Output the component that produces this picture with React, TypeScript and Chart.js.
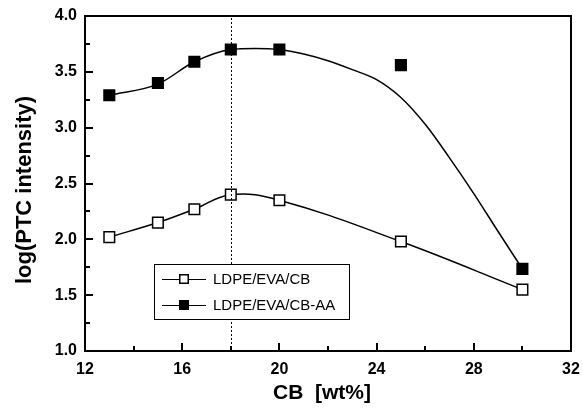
import React, { useEffect, useRef } from "react";
import { Chart, registerables } from "chart.js";

Chart.register(...registerables);

// ---- data ----
const cbContent = [13, 15, 16.5, 18, 20, 25, 30];
const ldpeEvaCb = [2.02, 2.15, 2.27, 2.4, 2.35, 1.98, 1.55];
const ldpeEvaCbAA = [3.29, 3.4, 3.59, 3.7, 3.7, 3.56, 1.735];
// fitted (hand-drawn) guide curve for LDPE/EVA/CB-AA
const fitCbContent = [13, 15, 16.5, 18, 19, 20, 21, 22, 23, 24, 25, 26, 27, 28, 29, 30];
const fitAA = [3.29, 3.39, 3.59, 3.7, 3.71, 3.7, 3.66, 3.6, 3.52, 3.43, 3.27, 3.03, 2.73, 2.41, 2.07, 1.735];
const xTickValues = [12, 16, 20, 24, 28, 32];
const xMinorTickValues = [14, 18, 22, 26, 30];
const yTickValues = [1.0, 1.5, 2.0, 2.5, 3.0, 3.5, 4.0];
const yMinorTickValues = [1.25, 1.75, 2.25, 2.75, 3.25, 3.75];
const percolationCb = 18;
const seriesNames = ["LDPE/EVA/CB", "LDPE/EVA/CB-AA"];
const xTitle = "CB  [wt%]";
const yTitle = "log(PTC intensity)";

const FONT = '"Liberation Sans", Arial, Helvetica, sans-serif';

function drawFrameAndTicks(ctx: CanvasRenderingContext2D, chart: any) {
  const a = chart.chartArea;
  const xs = chart.scales.x;
  const ys = chart.scales.y;
  const L = Math.round(a.left);
  const R = Math.round(a.right);
  const T = Math.round(a.top);
  const B = Math.round(a.bottom);
  ctx.save();
  ctx.fillStyle = "#000";
  ctx.fillRect(L - 1, T - 1, R - L + 2, 2);
  ctx.fillRect(L - 1, B - 1, R - L + 2, 2);
  ctx.fillRect(L - 1, T - 1, 2, B - T + 2);
  ctx.fillRect(R - 1, T - 1, 2, B - T + 2);
  xTickValues.forEach((v) => {
    const x = Math.round(xs.getPixelForValue(v));
    ctx.fillRect(x - 1, B - 8, 2, 8);
  });
  xMinorTickValues.forEach((v) => {
    const x = Math.round(xs.getPixelForValue(v));
    ctx.fillRect(x - 1, B - 5, 2, 5);
  });
  yTickValues.forEach((v) => {
    const y = Math.round(ys.getPixelForValue(v));
    ctx.fillRect(L, y - 1, 8, 2);
  });
  yMinorTickValues.forEach((v) => {
    const y = Math.round(ys.getPixelForValue(v));
    ctx.fillRect(L, y - 1, 5, 2);
  });
  ctx.restore();
}

const decorPlugin = {
  id: "decor",
  afterDraw(chart: any) {
    const ctx = chart.ctx;
    const a = chart.chartArea;
    const xs = chart.scales.x;
    const T = Math.round(a.top);
    const B = Math.round(a.bottom);
    ctx.save();
    ctx.fillStyle = "#000";
    // dotted percolation line
    const px = Math.round(xs.getPixelForValue(percolationCb));
    for (let y = T + 2; y < B - 1; y += 4) ctx.fillRect(px, y, 1, 2);
    drawFrameAndTicks(ctx, chart);

    // axis titles
    ctx.fillStyle = "#000";
    ctx.font = `bold 21px ${FONT}`;
    ctx.textAlign = "center";
    ctx.textBaseline = "middle";
    ctx.fillText(xTitle, 322, 393);
    ctx.save();
    ctx.translate(25, 190);
    ctx.rotate(-Math.PI / 2);
    ctx.font = `bold 22px ${FONT}`;
    ctx.fillText(yTitle, 0, 0);
    ctx.restore();

    // legend
    const bx = 154, by = 264, bw = 195, bh = 55;
    ctx.fillStyle = "#fff";
    ctx.fillRect(bx, by, bw, bh);
    ctx.fillStyle = "#000";
    ctx.fillRect(bx, by, bw, 1);
    ctx.fillRect(bx, by + bh, bw + 1, 1);
    ctx.fillRect(bx, by, 1, bh);
    ctx.fillRect(bx + bw, by, 1, bh);
    const rows = [by + 15, by + 41];
    rows.forEach((ry, i) => {
      ctx.fillStyle = "#000";
      ctx.fillRect(162, ry, 44, 1);
      const s = 10;
      ctx.fillRect(184 - s / 2, ry - s / 2, s, s);
      if (i === 0) {
        ctx.fillStyle = "#fff";
        ctx.fillRect(184 - s / 2 + 1.5, ry - s / 2 + 1.5, s - 3, s - 3);
      }
      ctx.fillStyle = "#000";
      ctx.font = `15px ${FONT}`;
      ctx.textAlign = "left";
      ctx.textBaseline = "middle";
      ctx.fillText(seriesNames[i], 213, ry + 1);
    });
    ctx.restore();
  },
};

export default function App() {
  const ref = useRef<HTMLCanvasElement | null>(null);
  const overlayRef = useRef<HTMLCanvasElement | null>(null);
  useEffect(() => {
    if (!ref.current) return;
    const chart = new Chart(ref.current, {
      type: "line",
      data: {
        datasets: [
          {
            label: seriesNames[1],
            data: cbContent.map((x, i) => ({ x, y: ldpeEvaCbAA[i] })),
            showLine: false,
            pointStyle: "rect",
            pointRadius: 7.5,
            pointBorderWidth: 1.5,
            pointBackgroundColor: "#000",
            pointBorderColor: "#000",
            borderColor: "#000",
          },
          {
            label: seriesNames[0],
            data: cbContent.map((x, i) => ({ x, y: ldpeEvaCb[i] })),
            borderColor: "#000",
            borderWidth: 1.5,
            tension: 0.4,
            pointStyle: "rect",
            pointRadius: 7.5,
            pointBorderWidth: 1.5,
            pointBackgroundColor: "#fff",
            pointBorderColor: "#000",
          },
          {
            label: "fit",
            data: fitCbContent.map((x, i) => ({ x, y: fitAA[i] })),
            borderColor: "#000",
            borderWidth: 1.5,
            pointRadius: 0,
            cubicInterpolationMode: "monotone",
          },
        ],
      },
      options: {
        responsive: false,
        animation: false,
        layout: { padding: { top: 16, right: 12, left: 0, bottom: 0 } },
        plugins: { legend: { display: false }, tooltip: { enabled: false } },
        scales: {
          x: {
            type: "linear",
            min: 12,
            max: 32,
            grid: { display: false, drawTicks: false, tickLength: 0 },
            border: { display: true, color: "#000", width: 2 },
            afterBuildTicks: (s: any) => {
              s.ticks = xTickValues.map((v) => ({ value: v }));
            },
            afterFit: (s: any) => {
              s.height = 67;
              s.paddingLeft = 0;
              s.paddingRight = 0;
            },
            ticks: {
              color: "#000",
              padding: 9,
              font: { family: FONT, size: 16, weight: "bold" },
            },
          },
          y: {
            type: "linear",
            min: 1,
            max: 4,
            grid: { display: false, drawTicks: false, tickLength: 0 },
            border: { display: true, color: "#000", width: 2 },
            afterBuildTicks: (s: any) => {
              s.ticks = yTickValues.map((v) => ({ value: v }));
            },
            afterFit: (s: any) => {
              s.width = 85;
              s.paddingTop = 0;
              s.paddingBottom = 0;
            },
            ticks: {
              color: "#000",
              padding: 8,
              font: { family: FONT, size: 16, weight: "bold" },
              callback: (v: any) => Number(v).toFixed(1),
            },
          },
        },
      },
      plugins: [decorPlugin],
    } as any);

    // overlay canvas: frame and inward ticks, placed from the chart's own scales
    const oc = overlayRef.current;
    if (oc) {
      const octx = oc.getContext("2d");
      if (octx) {
        octx.clearRect(0, 0, oc.width, oc.height);
        drawFrameAndTicks(octx, chart);
      }
    }
    return () => chart.destroy();
  }, []);
  return (
    <div style={{ position: "absolute", left: 0, top: 0, width: 583, height: 418, background: "#fff" }}>
      <canvas ref={ref} width={583} height={418} style={{ position: "absolute", left: 0, top: 0 }} />
      <canvas
        ref={overlayRef}
        width={583}
        height={418}
        style={{ position: "absolute", left: 0, top: 0, pointerEvents: "none" }}
      />
    </div>
  );
}
